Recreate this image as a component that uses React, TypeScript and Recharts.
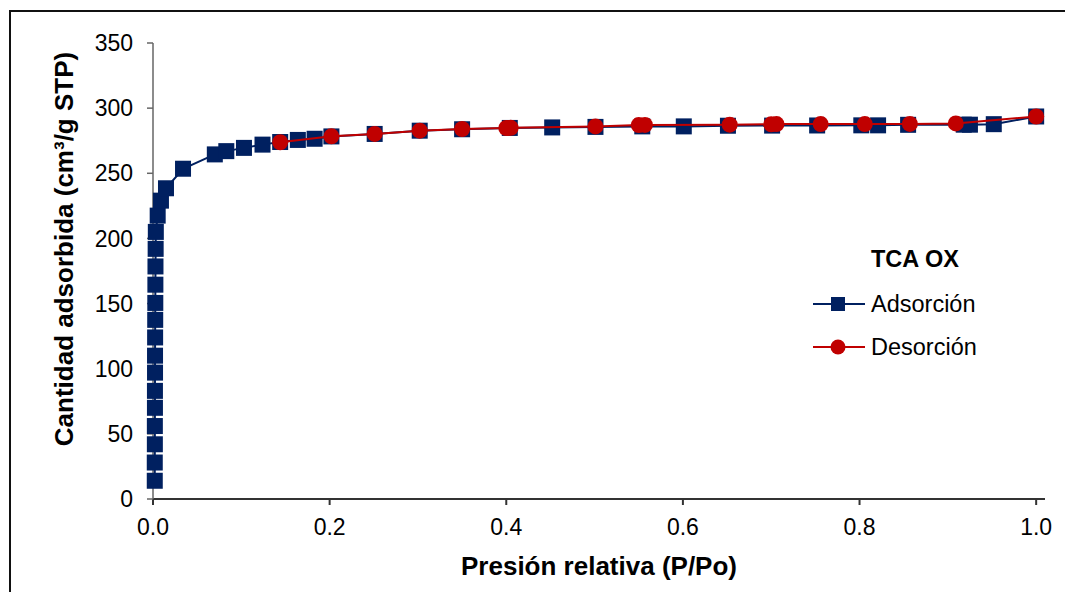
import React from 'react';
import { ScatterChart, Scatter, XAxis, YAxis, Label } from 'recharts';

// ---- Data ----
const adsorptionP = [
  0.002, 0.002, 0.0021, 0.0021, 0.0022, 0.0022, 0.0023, 0.0023, 0.0024, 0.0025,
  0.0026, 0.0027, 0.0028, 0.003, 0.0032, 0.0053, 0.009, 0.0147, 0.034, 0.07,
  0.083, 0.103, 0.124, 0.144, 0.164, 0.183, 0.202, 0.251, 0.302, 0.35,
  0.404, 0.452, 0.501, 0.554, 0.601, 0.651, 0.701, 0.752, 0.802, 0.821,
  0.855, 0.918, 0.925, 0.952, 1.0,
];
const adsorptionV = [
  14, 28, 42, 56, 70, 83, 97, 110, 124, 137.5,
  150.5, 164.5, 178.5, 192, 205, 217.5, 229, 238.5, 253.5, 264.5,
  267, 269.5, 272, 274, 275.6, 276.5, 278.3, 280.2, 282.7, 283.8,
  284.8, 285.2, 285.6, 286, 286, 286.5, 286.6, 286.7, 286.8, 286.8,
  287.2, 287.3, 287.3, 287.7, 293.6,
];
const desorptionP = [
  1.0, 0.909, 0.857, 0.806, 0.756, 0.706, 0.7, 0.653, 0.557, 0.55,
  0.501, 0.405, 0.4, 0.35, 0.302, 0.251, 0.202, 0.144,
];
const desorptionV = [
  293.6, 288.3, 287.9, 287.8, 287.8, 287.8, 287.6, 287.3, 287.1, 287,
  286, 284.9, 284.7, 284, 282.7, 280.2, 278.4, 273.8,
];
const xTicks = [0, 0.2, 0.4, 0.6, 0.8, 1.0];
const yTicks = [0, 50, 100, 150, 200, 250, 300, 350];
const seriesNames = ['Adsorción', 'Desorción'];
const legendTitle = 'TCA OX';
const xTitle = 'Presión relativa (P/Po)';
const yTitle = 'Cantidad adsorbida (cm³/g STP)';

const BLUE = '#002060';
const RED = '#C00000';
const FONT = '"Liberation Sans", Arial, sans-serif';

const adsorption = adsorptionP.map((p, i) => ({ p, v: adsorptionV[i] }));
const desorption = desorptionP.map((p, i) => ({ p, v: desorptionV[i] }));

const SquareShape = (props: any) => {
  const { cx, cy } = props;
  if (cx == null || cy == null) return null;
  return <rect x={cx - 8} y={cy - 8} width={16} height={16} fill={BLUE} />;
};
const CircleShape = (props: any) => {
  const { cx, cy } = props;
  if (cx == null || cy == null) return null;
  return <circle cx={cx} cy={cy} r={8} fill={RED} />;
};

const LegendBox = () => {
  const row = (name: string, color: string, isSquare: boolean, top: number) => (
    <div key={name} style={{ position: 'absolute', left: 0, top, height: 28, width: 250 }}>
      <svg width={54} height={28} style={{ position: 'absolute', left: 13, top: 0 }}>
        <line x1={0} y1={14} x2={52} y2={14} stroke={color} strokeWidth={2} />
        {isSquare ? (
          <rect x={18} y={7} width={14} height={14} fill={color} />
        ) : (
          <circle cx={25} cy={14} r={7.5} fill={color} />
        )}
      </svg>
      <div style={{ position: 'absolute', left: 71, top: 0, lineHeight: '28px', fontSize: 23.5, whiteSpace: 'nowrap' }}>
        {name}
      </div>
    </div>
  );
  return (
    <div style={{ position: 'absolute', left: 800, top: 230, width: 250, height: 140, fontFamily: FONT, color: '#000' }}>
      <div style={{ position: 'absolute', left: 71, top: 15, lineHeight: '28px', fontSize: 23.5, fontWeight: 'bold', whiteSpace: 'nowrap' }}>
        {legendTitle}
      </div>
      {row(seriesNames[0], BLUE, true, 59.5)}
      {row(seriesNames[1], RED, false, 103)}
    </div>
  );
};

export default function App() {
  return (
    <div style={{ position: 'absolute', left: 0, top: 0, width: 1065, height: 592, background: '#fff', overflow: 'hidden' }}>
      <div style={{ position: 'absolute', left: 9, top: 10, width: 1100, height: 700, borderLeft: '2px solid #111', borderTop: '2px solid #111' }} />
      <div style={{ position: 'absolute', left: 0, top: 0 }}>
        <ScatterChart
          width={1065}
          height={592}
          margin={{ top: 43, right: 20, bottom: 0, left: 0 }}
          style={{ fontFamily: FONT }}
        >
          <XAxis
            type="number"
            dataKey="p"
            domain={[0, 1.01]}
            ticks={xTicks}
            tickFormatter={(v: number) => v.toFixed(1)}
            height={93}
            stroke="#333"
            strokeWidth={2}
            tickSize={6}
            tickMargin={14}
            tick={{ fill: '#000', fontSize: 23, fontFamily: FONT }}
            tickLine={{ stroke: '#333', strokeWidth: 2 }}
          >
            <Label
              content={() => (
                <text x={599} y={566} textAnchor="middle" dominantBaseline="central" fontFamily={FONT} fontSize={26} fontWeight="bold" fill="#000">
                  {xTitle}
                </text>
              )}
            />
          </XAxis>
          <YAxis
            type="number"
            dataKey="v"
            domain={[0, 350]}
            ticks={yTicks}
            width={153}
            stroke="#666"
            strokeWidth={1.5}
            tickSize={6}
            tickMargin={14}
            tick={{ fill: '#000', fontSize: 23, fontFamily: FONT }}
            tickLine={{ stroke: '#666', strokeWidth: 1.5 }}
          >
            <Label
              content={() => (
                <text x={64} y={249} transform="rotate(-90 64 249)" textAnchor="middle" dominantBaseline="central" fontFamily={FONT} fontSize={26} fontWeight="bold" fill="#000">
                  {yTitle}
                </text>
              )}
            />
          </YAxis>
          <Scatter
            name={seriesNames[0]}
            data={adsorption}
            fill={BLUE}
            line={{ stroke: BLUE, strokeWidth: 2 }}
            lineType="joint"
            shape={SquareShape}
            isAnimationActive={false}
          />
          <Scatter
            name={seriesNames[1]}
            data={desorption}
            fill={RED}
            line={{ stroke: RED, strokeWidth: 2 }}
            lineType="joint"
            shape={CircleShape}
            isAnimationActive={false}
          />
        </ScatterChart>
      </div>
      <LegendBox />
    </div>
  );
}
